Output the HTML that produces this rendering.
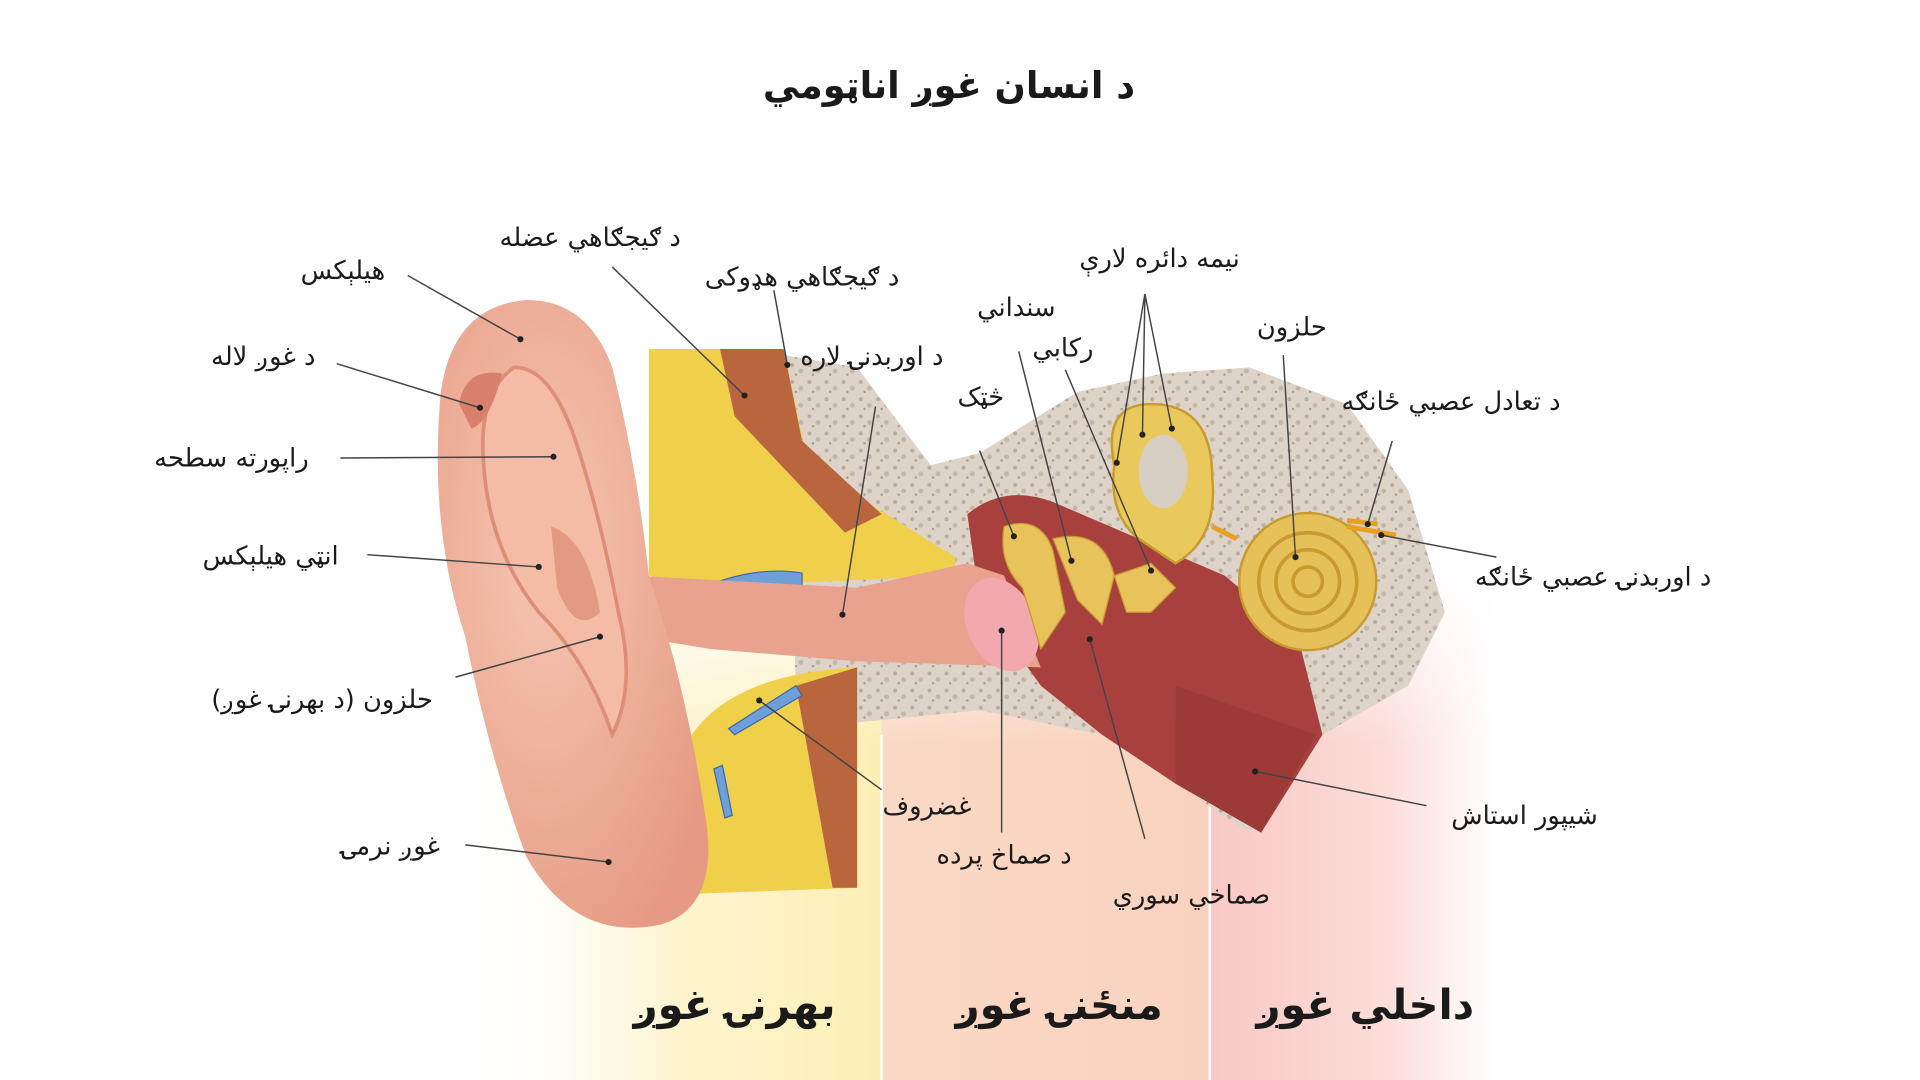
<!DOCTYPE html>
<html><head><meta charset="utf-8"><style>
html,body{margin:0;padding:0;background:#fff;width:1920px;height:1080px;overflow:hidden}
svg{display:block}
text{font-family:"DejaVu Sans","Noto Sans CJK SC",sans-serif;fill:#1a1a1a}
</style></head><body>
<svg width="1920" height="1080" viewBox="0 0 1568 882" xmlns="http://www.w3.org/2000/svg">
<defs>
<linearGradient id="gy" x1="0" y1="0" x2="1" y2="0"><stop offset="0" stop-color="#fff" stop-opacity="0"/><stop offset="0.5" stop-color="#fdf4cf"/><stop offset="1" stop-color="#fcefb5"/></linearGradient>
<linearGradient id="gp" x1="0" y1="0" x2="1" y2="0"><stop offset="0" stop-color="#fad9c4"/><stop offset="1" stop-color="#f9d2bf"/></linearGradient>
<linearGradient id="gr" x1="0" y1="0" x2="1" y2="0"><stop offset="0" stop-color="#f9c8c4"/><stop offset="0.6" stop-color="#fbdcd8"/><stop offset="1" stop-color="#fff"/></linearGradient>
<linearGradient id="fade" x1="0" y1="0" x2="0" y2="1"><stop offset="0" stop-color="#fff"/><stop offset="0.35" stop-color="#fff" stop-opacity="0"/></linearGradient>
<pattern id="bone" width="14" height="14" patternUnits="userSpaceOnUse"><rect width="14" height="14" fill="#ddd3c8"/><circle cx="3" cy="4" r="1.6" fill="#b9ab9c"/><circle cx="10" cy="9" r="2" fill="#c4b6a6"/><circle cx="6" cy="12" r="1" fill="#a89888"/></pattern>
<radialGradient id="ear" cx="0.4" cy="0.4" r="0.7"><stop offset="0" stop-color="#f6c7b4"/><stop offset="1" stop-color="#e69a83"/></radialGradient>
</defs>
<!-- bands -->
<rect x="380" y="460" width="340" height="422" fill="url(#gy)"/>
<rect x="720" y="460" width="268" height="422" fill="url(#gp)"/>
<rect x="988" y="460" width="235" height="422" fill="url(#gr)"/>
<rect x="380" y="460" width="845" height="422" fill="url(#fade)"/>
<line x1="720" y1="600" x2="720" y2="882" stroke="#fff" stroke-width="2"/>
<line x1="988" y1="600" x2="988" y2="882" stroke="#fff" stroke-width="2"/>

<!-- bone -->
<path d="M640 290 L700 300 L760 380 L800 370 L880 320 L950 305 L1020 300 L1100 330 L1150 400 L1180 500 L1150 560 L1080 600 L1020 680 L960 640 L900 600 L800 580 L700 590 L650 560 Z" fill="url(#bone)"/>
<!-- yellow upper tissue -->
<path d="M530 285 L640 285 L660 380 L780 455 L780 470 L560 480 L530 470 Z" fill="#f0d04a"/>
<path d="M588 285 L640 285 L655 360 L720 420 L690 435 L600 340 Z" fill="#b9663f"/>
<path d="M578 478 Q620 462 655 468 L655 478 Q615 476 585 490 Z" fill="#6e9fd8" stroke="#3b6aa8"/>
<!-- lower yellow tissue -->
<path d="M565 730 L565 600 Q600 550 700 545 L700 725 Z" fill="#f0d04a"/>
<path d="M650 560 L700 545 L700 725 L680 725 Z" fill="#b9663f"/>
<path d="M595 595 L650 560 L655 568 L600 600 Z" fill="#6e9fd8" stroke="#3b6aa8"/>
<path d="M583 628 L592 668 L598 666 L590 625 Z" fill="#6e9fd8" stroke="#3b6aa8"/>
<!-- middle ear cavity -->
<path d="M790 420 Q820 395 860 410 L930 440 L1000 470 L1060 520 L1080 600 L1030 680 L960 640 L900 600 L850 560 L800 490 Z" fill="#a8413e"/>
<path d="M960 560 L1075 600 L1030 680 L960 640 Z" fill="#9c3a38"/>
<!-- ear canal -->
<path d="M515 470 L700 480 L790 460 L820 470 L850 545 L700 540 L580 530 L520 520 Z" fill="#e8a28e"/>
<ellipse cx="818" cy="510" rx="28" ry="40" fill="#f2a8ae" transform="rotate(-25 818 510)"/>
<!-- pinna -->
<path d="M430 245 Q370 250 360 320 Q350 430 380 520 Q400 620 430 700 Q470 770 540 755 Q590 740 575 660 Q560 560 530 470 Q520 380 500 300 Q480 245 430 245 Z" fill="url(#ear)"/>
<path d="M420 300 Q390 320 395 380 Q400 450 440 500 Q480 540 500 600 Q520 560 505 500 Q490 420 470 360 Q450 300 420 300 Z" fill="#f4bba6" stroke="#dd8e78" stroke-width="3"/>
<path d="M375 330 Q380 300 410 305 Q400 345 385 350 Z" fill="#d9806c"/>
<path d="M450 430 Q480 440 490 500 Q470 520 455 480 Z" fill="#e39a84"/>
<!-- ossicles -->
<path d="M820 430 Q850 420 860 450 L870 500 L850 530 L835 480 Q815 460 820 430 Z" fill="#e8c25a" stroke="#c89a30"/>
<path d="M860 440 Q900 430 910 470 L900 510 L880 490 Z" fill="#e8c25a" stroke="#c89a30"/>
<path d="M910 470 L940 460 L960 480 L940 500 L920 500 Z" fill="#e8c25a" stroke="#c89a30"/>
<!-- semicircular canals / vestibule -->
<path d="M910 380 Q900 330 940 330 Q990 330 990 390 Q995 440 960 460 L930 440 Q905 420 910 380 Z" fill="#eac95c" stroke="#c89a30" stroke-width="2"/>
<ellipse cx="950" cy="385" rx="20" ry="30" fill="#d8cfc4"/>
<!-- cochlea -->
<circle cx="1068" cy="475" r="56" fill="#e6c15a" stroke="#c89a30" stroke-width="2"/>
<circle cx="1068" cy="475" r="40" fill="none" stroke="#c89a30" stroke-width="3"/>
<circle cx="1068" cy="475" r="26" fill="none" stroke="#c89a30" stroke-width="3"/>
<circle cx="1068" cy="475" r="12" fill="none" stroke="#c89a30" stroke-width="3"/>
<path d="M990 430 L1010 440 M1100 430 L1140 437 M1100 425 L1125 428" stroke="#e8a020" stroke-width="4"/>

<!-- leader lines -->
<g stroke="#444" stroke-width="1.2" fill="none">
<path d="M333 225 L425 277"/><path d="M275 297 L392 333"/><path d="M278 374 L452 373"/>
<path d="M300 453 L440 463"/><path d="M372 553 L490 520"/><path d="M380 690 L497 704"/>
<path d="M500 218 L608 323"/><path d="M632 237 L643 298"/><path d="M715 332 L688 502"/>
<path d="M800 368 L828 438"/><path d="M832 287 L875 458"/><path d="M870 302 L940 466"/>
<path d="M935 240 L912 378 M935 240 L933 355 M935 240 L957 350"/>
<path d="M1048 290 L1058 455"/><path d="M1137 360 L1117 428"/><path d="M1222 455 L1128 437"/>
<path d="M1165 658 L1025 630"/><path d="M935 685 L890 522"/><path d="M818 680 L818 515"/>
<path d="M720 645 L620 572"/>
</g>
<g fill="#222">
<circle cx="425" cy="277" r="2.5"/><circle cx="392" cy="333" r="2.5"/><circle cx="452" cy="373" r="2.5"/><circle cx="440" cy="463" r="2.5"/><circle cx="490" cy="520" r="2.5"/><circle cx="497" cy="704" r="2.5"/><circle cx="608" cy="323" r="2.5"/><circle cx="643" cy="298" r="2.5"/><circle cx="688" cy="502" r="2.5"/><circle cx="828" cy="438" r="2.5"/><circle cx="875" cy="458" r="2.5"/><circle cx="940" cy="466" r="2.5"/><circle cx="912" cy="378" r="2.5"/><circle cx="933" cy="355" r="2.5"/><circle cx="957" cy="350" r="2.5"/><circle cx="1058" cy="455" r="2.5"/><circle cx="1117" cy="428" r="2.5"/><circle cx="1128" cy="437" r="2.5"/><circle cx="1025" cy="630" r="2.5"/><circle cx="890" cy="522" r="2.5"/><circle cx="818" cy="515" r="2.5"/><circle cx="620" cy="572" r="2.5"/>
</g>

<!-- labels -->
<g font-size="21" text-anchor="middle" direction="rtl">
<text x="775" y="80" font-size="30" font-weight="bold">د انسان غوږ اناټومي</text>
<text x="280" y="228">هيلېکس</text>
<text x="215" y="298">د غوږ لاله</text>
<text x="189" y="381">راپورته سطحه</text>
<text x="221" y="461">انټي هيلېکس</text>
<text x="263" y="578">حلزون (د بهرنۍ غوږ)</text>
<text x="319" y="698">غوږ نرمۍ</text>
<text x="482" y="201">د ګيجګاهي عضله</text>
<text x="655" y="233">د ګيجګاهي هډوکی</text>
<text x="712" y="298">د اوربدنۍ لاره</text>
<text x="801" y="331">څټک</text>
<text x="830" y="258">سنداني</text>
<text x="868" y="291">رکابي</text>
<text x="947" y="218">نيمه دائره لارې</text>
<text x="1055" y="274">حلزون</text>
<text x="1185" y="335">د تعادل عصبي ځانګه</text>
<text x="1301" y="478">د اوربدنۍ عصبي ځانګه</text>
<text x="1245" y="673">شيپور استاش</text>
<text x="973" y="738">صماخي سوري</text>
<text x="820" y="705">د صماخ پرده</text>
<text x="757" y="665">غضروف</text>
<text x="600" y="832" font-size="34" font-weight="bold">بهرنۍ غوږ</text>
<text x="865" y="832" font-size="34" font-weight="bold">منځنۍ غوږ</text>
<text x="1115" y="832" font-size="34" font-weight="bold">داخلي غوږ</text>
</g>
</svg>
</body></html>
